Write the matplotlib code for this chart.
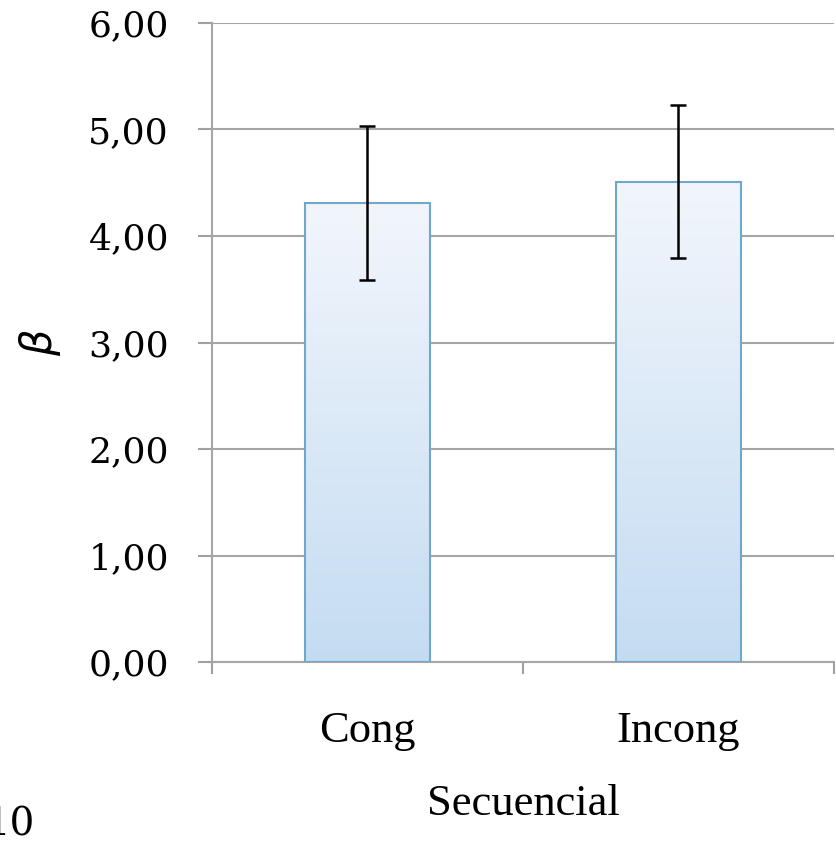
import matplotlib.pyplot as plt
import numpy as np

categories = ["Cong", "Incong"]
values = [4.31, 4.51]
errors = [0.72, 0.72]
yticks = [0, 1, 2, 3, 4, 5, 6]
ytick_labels = ["0,00", "1,00", "2,00", "3,00", "4,00", "5,00", "6,00"]

fig = plt.figure(figsize=(8.37, 8.48), dpi=100)
ax = fig.add_axes([0.2533, 0.2193, 0.743, 0.7536])

x = np.arange(len(categories))
bars = ax.bar(x, values, width=0.4, color="none", edgecolor="#6fa8cb", linewidth=1.5, zorder=3)

# vertical gradient inside each bar
grad = np.linspace(0, 1, 256).reshape(-1, 1)
cmap = plt.matplotlib.colors.LinearSegmentedColormap.from_list("g", ["#c4dcf2", "#f2f6fc"])
for b in bars:
    x0, y0 = b.get_x(), b.get_y()
    im = ax.imshow(grad, extent=[x0, x0 + b.get_width(), y0, y0 + b.get_height()],
                   origin="lower", cmap=cmap, aspect="auto", zorder=2)
    im.set_clip_path(b)

ax.errorbar(x, values, yerr=errors, fmt="none", ecolor="black", elinewidth=1.8,
            capsize=6, capthick=1.8, zorder=4)

ax.set_xlim(-0.5, 1.5)
ax.set_ylim(0, 6)
ax.set_yticks(yticks)
ax.set_yticklabels(ytick_labels, fontfamily="DejaVu Serif", fontsize=26)
ax.set_xticks(x)
ax.set_xticklabels(categories, fontfamily="Liberation Serif", fontsize=32)
ax.set_xticks([-0.5, 0.5, 1.5], minor=True)
ax.tick_params(axis="x", which="major", length=0, pad=35)
ax.tick_params(axis="x", which="minor", length=8.5, color="#a0a0a0", width=1.5)
ax.tick_params(axis="y", length=10, color="#a0a0a0", width=1.5, pad=21)

ax.yaxis.grid(True, color="#a6a6a6", linewidth=1.5, zorder=0)
ax.set_axisbelow(True)
for s in ["top", "right"]:
    ax.spines[s].set_visible(False)
for s in ["left", "bottom"]:
    ax.spines[s].set_color("#a6a6a6")
    ax.spines[s].set_linewidth(1.5)

ax.set_xlabel("Secuencial", fontfamily="Liberation Serif", fontsize=32, labelpad=24)
ax.set_ylabel(r"$\beta$", fontsize=30, labelpad=18)

# partly cut-off label at the lower left, as in the source
fig.text(35 / 837, 12 / 848, "10", fontfamily="DejaVu Serif", fontsize=28, ha="right")

fig.savefig("out.png", dpi=100)
